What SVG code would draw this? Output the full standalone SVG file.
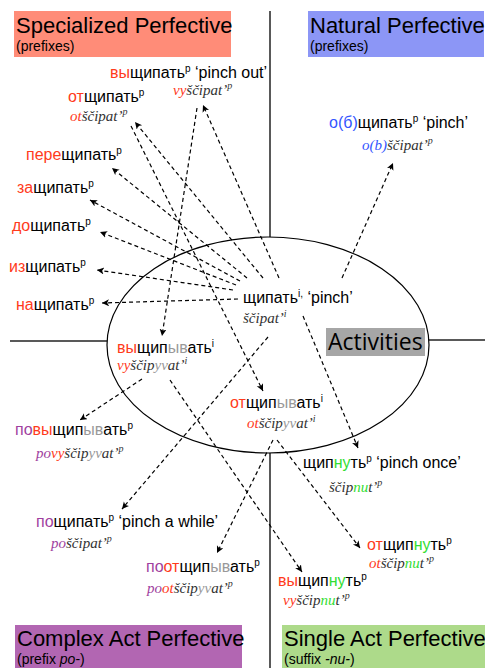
<svg xmlns="http://www.w3.org/2000/svg" width="485" height="668" viewBox="0 0 485 668">
<defs>
<marker id="ah" markerUnits="userSpaceOnUse" markerWidth="10" markerHeight="10" refX="7" refY="3.5" orient="auto">
<path d="M0,0 L7,3.5 L0,7 L1.8,3.5 z" fill="#000"/>
</marker>
<style>
.cy{font-family:"Liberation Sans",Arial,sans-serif;font-size:16px;fill:#000}
.tr{font-family:"Liberation Serif","Times New Roman",serif;font-style:italic;font-size:15px;fill:#333}
.sup{font-size:10px}
.red{fill:#ff3b1c}
.pur{fill:#a03fa0}
.gry{fill:#999}
.grn{fill:#33dd33}
.blu{fill:#3355ff}
.ttl{font-family:"Liberation Sans",Arial,sans-serif;font-size:22px;fill:#000}
.sub{font-family:"Liberation Sans",Arial,sans-serif;font-size:14px;fill:#000}
.axis{stroke:#222;stroke-width:1.5;fill:none}
.con line{stroke:#000;stroke-width:1.2;stroke-dasharray:4 3;marker-end:url(#ah)}
</style>
</defs>
<rect width="485" height="668" fill="#fff"/>

<g id="axes">
<line class="axis" x1="270" y1="11" x2="270" y2="237"/>
<line class="axis" x1="270" y1="453" x2="270" y2="668"/>
<line class="axis" x1="10" y1="341" x2="107" y2="341"/>
<line class="axis" x1="429" y1="340" x2="485" y2="340"/>
<ellipse cx="268" cy="345" rx="161" ry="108" fill="none" stroke="#000" stroke-width="1.2"/>
</g>

<g id="q-specialized">
<rect x="14" y="11" width="217" height="46" fill="#ff8c78"/>
<text class="ttl" x="16" y="33">Specialized Perfective</text>
<text class="sub" x="16" y="51">(prefixes)</text>
</g>
<g id="q-natural">
<rect x="308" y="11" width="176" height="46" fill="#8c96f6"/>
<text class="ttl" x="310" y="33">Natural Perfective</text>
<text class="sub" x="310" y="51">(prefixes)</text>
</g>
<g id="q-complex">
<rect x="15" y="625" width="227" height="43" fill="#b266b2"/>
<text class="ttl" x="17" y="646">Complex Act Perfective</text>
<text class="sub" x="17" y="664">(prefix <tspan font-style="italic">po</tspan>-)</text>
</g>
<g id="q-single">
<rect x="282" y="625" width="203" height="43" fill="#adda8a"/>
<text class="ttl" x="284" y="646">Single Act Perfective</text>
<text class="sub" x="284" y="664">(suffix <tspan font-style="italic">-nu-</tspan>)</text>
</g>
<g id="activities">
<rect x="326" y="328" width="99" height="28" fill="#a6a6a6"/>
<text x="328" y="350" font-family="'Open Sans','DejaVu Sans',sans-serif" font-size="23" fill="#000">Activities</text>
</g>

<g id="connectors" class="con">
<line x1="279" y1="278" x2="203" y2="105"/>
<line x1="197" y1="108" x2="162" y2="336"/>
<line x1="263" y1="278" x2="135" y2="122"/>
<line x1="131" y1="126" x2="263" y2="391"/>
<line x1="247" y1="278" x2="112" y2="168"/>
<line x1="240" y1="281" x2="90" y2="200"/>
<line x1="236" y1="285" x2="100" y2="232"/>
<line x1="233" y1="290" x2="97" y2="270"/>
<line x1="238" y1="299" x2="102" y2="303"/>
<line x1="342" y1="278" x2="393" y2="163"/>
<line x1="268" y1="337" x2="122" y2="509"/>
<line x1="303" y1="316" x2="358" y2="448"/>
<line x1="142" y1="379" x2="80" y2="420"/>
<line x1="170" y1="380" x2="302" y2="572"/>
<line x1="273" y1="440" x2="217" y2="553"/>
<line x1="277" y1="440" x2="360" y2="548"/>
</g>

<g id="n-vyscipat">
<text class="cy" x="110" y="78"><tspan class="red">вы</tspan>щипать<tspan class="sup" dy="-6">p</tspan><tspan dy="6"> ‘pinch out’</tspan></text>
<text class="tr" x="173" y="95"><tspan class="red">vy</tspan>ščipat’<tspan class="sup" dy="-6">p</tspan></text>
</g>
<g id="n-otscipat">
<text class="cy" x="68" y="102"><tspan class="red">от</tspan>щипать<tspan class="sup" dy="-6">p</tspan></text>
<text class="tr" x="70" y="121"><tspan class="red">ot</tspan>ščipat’<tspan class="sup" dy="-6">p</tspan></text>
</g>
<g id="n-perescipat">
<text class="cy" x="26" y="160"><tspan class="red">пере</tspan>щипать<tspan class="sup" dy="-6">p</tspan></text>
</g>
<g id="n-zascipat">
<text class="cy" x="17" y="193"><tspan class="red">за</tspan>щипать<tspan class="sup" dy="-6">p</tspan></text>
</g>
<g id="n-doscipat">
<text class="cy" x="12" y="231"><tspan class="red">до</tspan>щипать<tspan class="sup" dy="-6">p</tspan></text>
</g>
<g id="n-izscipat">
<text class="cy" x="9" y="272"><tspan class="red">из</tspan>щипать<tspan class="sup" dy="-6">p</tspan></text>
</g>
<g id="n-nascipat">
<text class="cy" x="16" y="310"><tspan class="red">на</tspan>щипать<tspan class="sup" dy="-6">p</tspan></text>
</g>
<g id="n-scipat">
<text class="cy" x="243" y="303">щипать<tspan class="sup" dy="-6">i,</tspan><tspan dy="6"> ‘pinch’</tspan></text>
<text class="tr" x="243" y="323">ščipat’<tspan class="sup" dy="-6">i</tspan></text>
</g>
<g id="n-obscipat">
<text class="cy" x="329" y="128"><tspan class="blu">о(б)</tspan>щипать<tspan class="sup" dy="-6">p</tspan><tspan dy="6"> ‘pinch’</tspan></text>
<text class="tr" x="362" y="150"><tspan class="blu">o(b)</tspan>ščipat’<tspan class="sup" dy="-6">p</tspan></text>
</g>
<g id="n-vyscipyvat">
<text class="cy" x="117" y="353"><tspan class="red">вы</tspan>щип<tspan class="gry">ыв</tspan>ать<tspan class="sup" dy="-6">i</tspan></text>
<text class="tr" x="117" y="370"><tspan class="red">vy</tspan>ščip<tspan class="gry">yv</tspan>at’<tspan class="sup" dy="-6">i</tspan></text>
</g>
<g id="n-otscipyvat">
<text class="cy" x="230" y="408"><tspan class="red">от</tspan>щип<tspan class="gry">ыв</tspan>ать<tspan class="sup" dy="-6">i</tspan></text>
<text class="tr" x="247" y="428"><tspan class="red">ot</tspan>ščip<tspan class="gry">yv</tspan>at’<tspan class="sup" dy="-6">i</tspan></text>
</g>
<g id="n-scipnut">
<text class="cy" x="303" y="468">щип<tspan class="grn">ну</tspan>ть<tspan class="sup" dy="-6">p</tspan><tspan dy="6"> ‘pinch once’</tspan></text>
<text class="tr" x="329" y="492">ščip<tspan class="grn">nu</tspan>t’<tspan class="sup" dy="-6">p</tspan></text>
</g>
<g id="n-povyscipyvat">
<text class="cy" x="15" y="435"><tspan class="pur">по</tspan><tspan class="red">вы</tspan>щип<tspan class="gry">ыв</tspan>ать<tspan class="sup" dy="-6">p</tspan></text>
<text class="tr" x="36" y="458"><tspan class="pur">po</tspan><tspan class="red">vy</tspan>ščip<tspan class="gry">yv</tspan>at’<tspan class="sup" dy="-6">p</tspan></text>
</g>
<g id="n-poscipat">
<text class="cy" x="36" y="527"><tspan class="pur">по</tspan>щипать<tspan class="sup" dy="-6">p</tspan><tspan dy="6"> ‘pinch a while’</tspan></text>
<text class="tr" x="51" y="548"><tspan class="pur">po</tspan>ščipat’<tspan class="sup" dy="-6">p</tspan></text>
</g>
<g id="n-pootscipyvat">
<text class="cy" x="146" y="572"><tspan class="pur">по</tspan><tspan class="red">от</tspan>щип<tspan class="gry">ыв</tspan>ать<tspan class="sup" dy="-6">p</tspan></text>
<text class="tr" x="147" y="593"><tspan class="pur">po</tspan><tspan class="red">ot</tspan>ščip<tspan class="gry">yv</tspan>at’<tspan class="sup" dy="-6">p</tspan></text>
</g>
<g id="n-vyscipnut">
<text class="cy" x="278" y="586"><tspan class="red">вы</tspan>щип<tspan class="grn">ну</tspan>ть<tspan class="sup" dy="-6">p</tspan></text>
<text class="tr" x="283" y="605"><tspan class="red">vy</tspan>ščip<tspan class="grn">nu</tspan>t’<tspan class="sup" dy="-6">p</tspan></text>
</g>
<g id="n-otscipnut">
<text class="cy" x="367" y="550"><tspan class="red">от</tspan>щип<tspan class="grn">ну</tspan>ть<tspan class="sup" dy="-6">p</tspan></text>
<text class="tr" x="369" y="568"><tspan class="red">ot</tspan>ščip<tspan class="grn">nu</tspan>t’<tspan class="sup" dy="-6">p</tspan></text>
</g>
</svg>
